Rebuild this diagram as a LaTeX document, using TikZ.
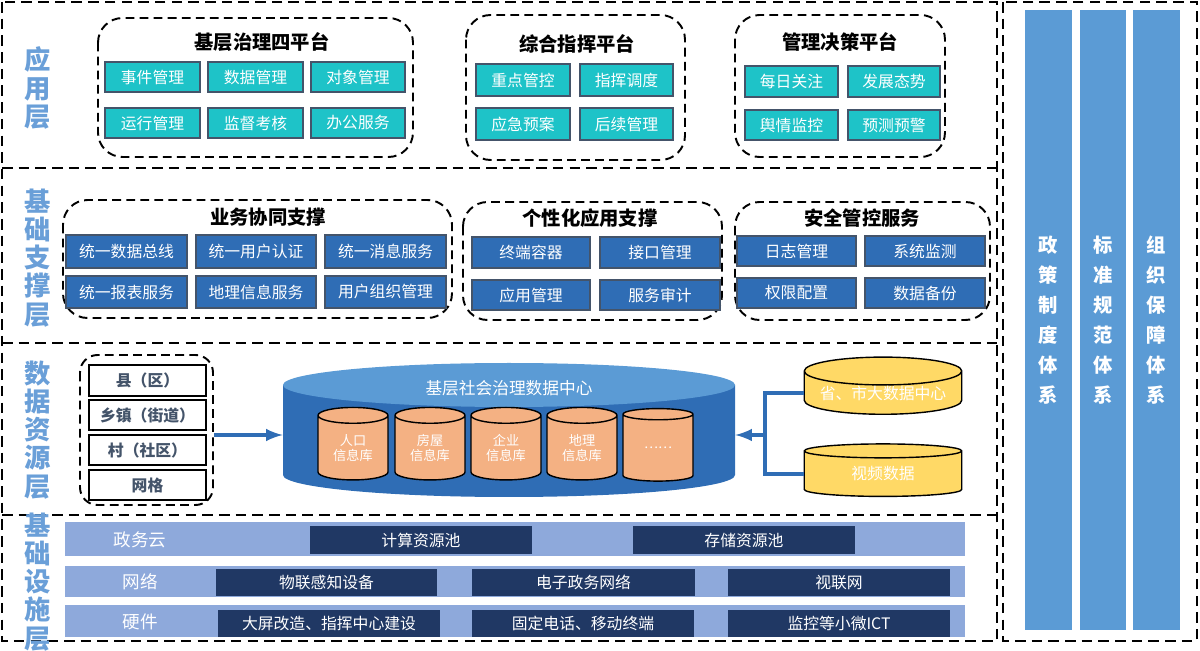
\documentclass[tikz,border=0pt]{standalone}
\usepackage{fontspec}
\setmainfont{Noto Sans CJK SC}
\usetikzlibrary{shapes.geometric}
\definecolor{layerblue}{HTML}{6A9FD8}
\definecolor{pillar}{HTML}{5B9BD5}
\definecolor{teal}{HTML}{1EC3C8}
\definecolor{midblue}{HTML}{2F6DB5}
\definecolor{navy}{HTML}{203864}
\definecolor{barblue}{HTML}{8EA9DB}
\definecolor{orng}{HTML}{F4B183}
\definecolor{yell}{HTML}{FFD966}
\definecolor{slate}{HTML}{44546A}
% box from corner to corner (pixel units)
\newcommand\pbox[7]{\node[#1, minimum width={(#5-#3)*0.02cm}, minimum height={(#6-#4)*0.02cm}] (#2) at ({(#3+#5)/2},{(#4+#6)/2}) {#7};}
\begin{document}
\begin{tikzpicture}[x=0.02cm,y=-0.02cm]
  \tikzset{laydash/.style={draw=black, line width=1.3pt, dash pattern=on 6pt off 3.5pt}};
  \tikzset{grpdash/.style={draw=black, line width=1.1pt, dash pattern=on 5pt off 3pt, rounded corners=14pt}};
  \tikzset{layname/.style={text=layerblue, font=\bfseries\fontsize{15}{16}\selectfont, align=center}};
  \tikzset{grptitle/.style={font=\bfseries\fontsize{11}{12}\selectfont}};
  \tikzset{appbox/.style={rectangle, fill=teal, draw=slate, line width=0.8pt, text=white, inner sep=0pt, font=\fontsize{9}{10}\selectfont}};
  \tikzset{supbox/.style={appbox, fill=midblue}};
  \tikzset{lvlbox/.style={rectangle, draw=black, line width=1.6pt, fill=white, inner sep=0pt, text=slate, font=\bfseries\fontsize{9}{10}\selectfont}};
  \tikzset{barbox/.style={rectangle, fill=barblue, inner sep=0pt}};
  \tikzset{infbox/.style={rectangle, fill=navy, text=white, inner sep=0pt, font=\fontsize{9}{10}\selectfont}};
  \tikzset{pillbox/.style={rectangle, fill=pillar, text=white, inner sep=0pt, align=center, font=\bfseries\fontsize{11}{17}\selectfont}};
  \tikzset{db/.style={cylinder, shape border rotate=90, draw=black, line width=0.8pt, inner sep=0pt, align=center, text=white, font=\fontsize{7.5}{9}\selectfont}};
  \tikzset{myarrow/.style={-latex, line width=2.2pt, draw=midblue}};
  \useasboundingbox (0,0) rectangle (1200,651);

  % layers
  \draw[laydash] (2,2) rectangle (997,641);
  \draw[laydash] (2,168) -- (997,168);
  \draw[laydash] (2,343) -- (997,343);
  \draw[laydash] (2,515) -- (997,515);
  \draw[laydash] (1003,2) rectangle (1197,641);
  \node[layname] (l1) at (38,88) {应\\用\\层};
  \node[layname] (l2) at (38,258) {基\\础\\支\\撑\\层};
  \node[layname] (l3) at (38,430) {数\\据\\资\\源\\层};
  \node[layname] (l4) at (38,582) {基\\础\\设\\施\\层};

  % pillars
  \pbox{pillbox}{p1}{1025}{10}{1072}{630}{政\\策\\制\\度\\体\\系}
  \pbox{pillbox}{p2}{1080}{10}{1126}{630}{标\\准\\规\\范\\体\\系}
  \pbox{pillbox}{p3}{1133}{10}{1180}{630}{组\\织\\保\\障\\体\\系}

  % application layer
  \draw[grpdash] (98,18) rectangle (413,157);
  \node[grptitle] (g1) at (262,42) {基层治理四平台};
  \pbox{appbox}{a1}{105}{62}{200}{92}{事件管理}
  \pbox{appbox}{a2}{208}{62}{303}{92}{数据管理}
  \pbox{appbox}{a3}{311}{62}{405}{92}{对象管理}
  \pbox{appbox}{a4}{105}{108}{200}{138}{运行管理}
  \pbox{appbox}{a5}{208}{108}{303}{138}{监督考核}
  \pbox{appbox}{a6}{311}{108}{405}{138}{办公服务}
  \draw[grpdash] (466,15) rectangle (685,160);
  \node[grptitle] (g2) at (577,44) {综合指挥平台};
  \pbox{appbox}{b1}{476}{64}{570}{96}{重点管控}
  \pbox{appbox}{b2}{580}{64}{673}{96}{指挥调度}
  \pbox{appbox}{b3}{476}{108}{570}{140}{应急预案}
  \pbox{appbox}{b4}{580}{108}{673}{140}{后续管理}
  \draw[grpdash] (735,15) rectangle (945,157);
  \node[grptitle] (g3) at (840,42) {管理决策平台};
  \pbox{appbox}{c1}{745}{66}{838}{97}{每日关注}
  \pbox{appbox}{c2}{848}{66}{940}{97}{发展态势}
  \pbox{appbox}{c3}{745}{110}{838}{140}{舆情监控}
  \pbox{appbox}{c4}{848}{110}{940}{140}{预测预警}

  % support layer
  \draw[grpdash] (63,200) rectangle (452,318);
  \node[grptitle] (g4) at (268,217) {业务协同支撑};
  \pbox{supbox}{s1}{66}{235}{187}{268}{统一数据总线}
  \pbox{supbox}{s2}{196}{235}{316}{268}{统一用户认证}
  \pbox{supbox}{s3}{325}{235}{446}{268}{统一消息服务}
  \pbox{supbox}{s4}{66}{276}{187}{308}{统一报表服务}
  \pbox{supbox}{s5}{196}{276}{316}{308}{地理信息服务}
  \pbox{supbox}{s6}{325}{276}{446}{308}{用户组织管理}
  \draw[grpdash] (463,202) rectangle (722,320);
  \node[grptitle] (g5) at (590,218) {个性化应用支撑};
  \pbox{supbox}{t1}{472}{237}{590}{268}{终端容器}
  \pbox{supbox}{t2}{600}{237}{720}{268}{接口管理}
  \pbox{supbox}{t3}{472}{280}{590}{310}{应用管理}
  \pbox{supbox}{t4}{600}{280}{720}{310}{服务审计}
  \draw[grpdash] (735,202) rectangle (990,320);
  \node[grptitle] (g6) at (862,218) {安全管控服务};
  \pbox{supbox}{u1}{737}{236}{856}{266}{日志管理}
  \pbox{supbox}{u2}{865}{236}{985}{266}{系统监测}
  \pbox{supbox}{u3}{737}{278}{856}{308}{权限配置}
  \pbox{supbox}{u4}{865}{278}{985}{308}{数据备份}

  % data layer
  \draw[grpdash, rounded corners=10pt] (80,355) rectangle (213,505);
  \pbox{lvlbox}{v1}{89}{365}{206}{396}{县（区）}
  \pbox{lvlbox}{v2}{89}{400}{206}{430}{乡镇（街道）}
  \pbox{lvlbox}{v3}{89}{435}{206}{465}{村（社区）}
  \pbox{lvlbox}{v4}{89}{470}{206}{500}{网格}
  \pbox{inner sep=0pt}{dc}{283}{363}{735}{497}{}
  \fill[midblue] (283,385) -- (283,475) arc[start angle=180, end angle=0, x radius=226, y radius=22] -- (735,385) -- cycle;
  \fill[pillar] (509,385) ellipse [x radius=226, y radius=22];
  \node[text=white, font=\fontsize{9.5}{10}\selectfont] (dct) at (509,388) {基层社会治理数据中心};
  \foreach \cx/\nm/\txt in {353/d1/人口\\信息库, 430/d2/房屋\\信息库, 506/d3/企业\\信息库, 582/d4/地理\\信息库, 658/d5/……}
    \node[db, fill=orng, aspect=0.4, minimum width=1.4cm, minimum height=1.45cm] (\nm) at (\cx,448) {\txt};
  \node[db, fill=yell, aspect=0.22, minimum width=3.15cm, minimum height=1.05cm, font=\fontsize{9}{10}\selectfont] (y1) at (883,393) {省、市大数据中心};
  \node[db, fill=yell, aspect=0.22, minimum width=3.15cm, minimum height=1.05cm, font=\fontsize{9}{10}\selectfont] (y2) at (883,474) {视频数据};
  \coordinate (jn) at (765,435);
  \draw[myarrow] (v3.east |- jn) ++(7,0) -- (dc.west |- jn);
  \draw[line width=2.2pt, draw=midblue] (y1.west) -| (jn) |- (y2.west);
  \draw[myarrow] (jn) -- (dc.east |- jn);

  % infrastructure layer
  \pbox{barbox}{r1}{65}{522}{965}{556}{}
  \pbox{barbox}{r2}{65}{566}{965}{597}{}
  \pbox{barbox}{r3}{65}{605}{965}{637}{}
  \node[font=\fontsize{10}{11}\selectfont, text=white] (r1t) at (140,540) {政务云};
  \node[font=\fontsize{10}{11}\selectfont, text=white] (r2t) at (140,582) {网络};
  \node[font=\fontsize{10}{11}\selectfont, text=white] (r3t) at (140,622) {硬件};
  \pbox{infbox}{i1}{310}{526}{532}{554}{计算资源池}
  \pbox{infbox}{i2}{633}{526}{855}{554}{存储资源池}
  \pbox{infbox}{i3}{216}{569}{437}{596}{物联感知设备}
  \pbox{infbox}{i4}{472}{569}{695}{596}{电子政务网络}
  \pbox{infbox}{i5}{728}{569}{950}{596}{视联网}
  \pbox{infbox}{i6}{218}{610}{440}{637}{大屏改造、指挥中心建设}
  \pbox{infbox}{i7}{472}{610}{694}{637}{固定电话、移动终端}
  \pbox{infbox}{i8}{728}{610}{950}{637}{监控等小微ICT}
\end{tikzpicture}
\end{document}
